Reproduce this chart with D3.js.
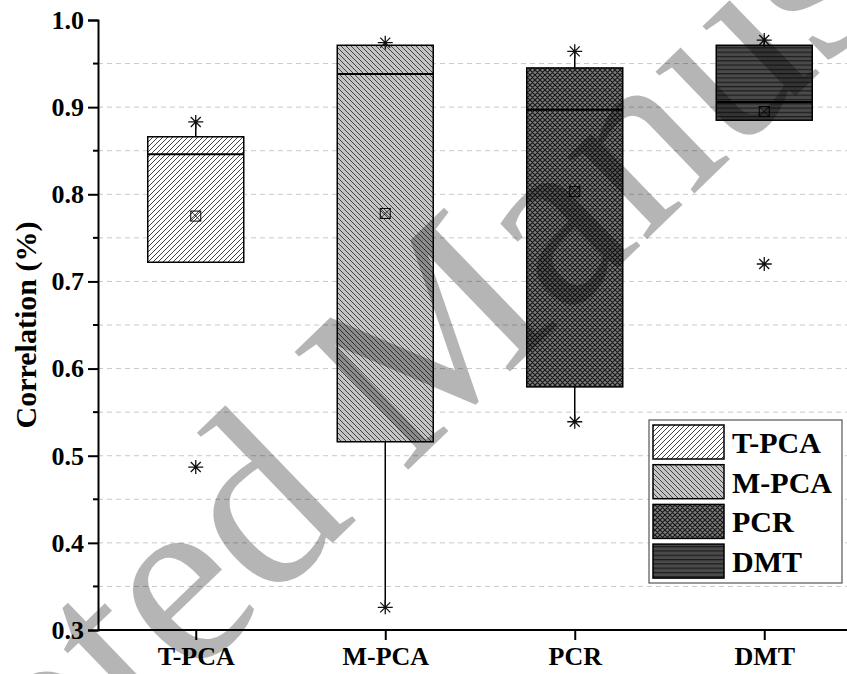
<!DOCTYPE html>
<html><head><meta charset="utf-8">
<script src="https://cdn.jsdelivr.net/npm/d3@7"></script>
<style>html,body{margin:0;padding:0;background:#fff}svg{display:block}</style>
</head><body>
<script>
const categories = ["T-PCA","M-PCA","PCR","DMT"];
const q1Vals     = [0.722, 0.516, 0.579, 0.885];
const medianVals = [0.846, 0.938, 0.897, 0.906];
const q3Vals     = [0.866, 0.971, 0.945, 0.971];
const whiskerLow = [0.722, 0.326, 0.539, 0.885];
const whiskerHigh= [0.883, 0.974, 0.964, 0.977];
const meanVals   = [0.775, 0.778, 0.803, 0.895];
const minVals    = [0.487, 0.326, 0.539, 0.720];
const maxVals    = [0.883, 0.974, 0.964, 0.977];
const yTicks     = [0.3,0.4,0.5,0.6,0.7,0.8,0.9,1.0];
const yMinorTicks= [0.35,0.45,0.55,0.65,0.75,0.85,0.95];
const yTitle = "Correlation (%)";
const watermark = "Accepted Manuscript";

const W=847,H=674;
const mLeft=98, mTop=20, mBottom=630;
const svg=d3.select("body").append("svg").attr("width",W).attr("height",H);
svg.append("rect").attr("width",W).attr("height",H).attr("fill","#fff");
const y=d3.scaleLinear().domain([0.3,1.0]).range([mBottom,mTop]);
const x=d3.scalePoint().domain(categories).range([101,859]).padding(0.5);
const boxW=96;

const defs=svg.append("defs");
function pat(id,size,bg,paths,stroke,sw){
  const p=defs.append("pattern").attr("id",id).attr("patternUnits","userSpaceOnUse").attr("width",size).attr("height",size);
  p.append("rect").attr("width",size).attr("height",size).attr("fill",bg);
  p.append("path").attr("d",paths).attr("stroke",stroke).attr("stroke-width",sw).attr("fill","none");
}
pat("p0",5,"#ffffff","M0,5L5,0M-1,1L1,-1M4,6L6,4","#111",0.8);
pat("p1",5,"#c4c4c4","M0,0L5,5M-1,4L1,6M4,-1L6,1","#333",0.9);
pat("p2",5,"#7c7c7c","M0,0L5,5M-1,4L1,6M4,-1L6,1M0,5L5,0M-1,1L1,-1M4,6L6,4","#181818",1.2);
const p3=defs.append("pattern").attr("id","p3").attr("patternUnits","userSpaceOnUse").attr("width",8).attr("height",4.3);
p3.append("rect").attr("width",8).attr("height",4.3).attr("fill","#4a4a4a");
p3.append("line").attr("x1",0).attr("x2",8).attr("y1",0.6).attr("y2",0.6).attr("stroke","#1c1c1c").attr("stroke-width",1.2);
const fills=["url(#p0)","url(#p1)","url(#p2)","url(#p3)"];

// grid
svg.append("g").selectAll("line").data(yTicks.concat(yMinorTicks).filter(v=>v>0.3&&v<1.0)).join("line")
  .attr("x1",mLeft).attr("x2",W).attr("y1",d=>y(d)).attr("y2",d=>y(d))
  .attr("stroke","#c8c8c8").attr("stroke-width",1).attr("stroke-dasharray","5,4");

// axes
const fontF="'Liberation Serif','Times New Roman',serif";
const ya=svg.append("g").attr("transform",`translate(${mLeft},0)`)
  .call(d3.axisLeft(y).tickValues(yTicks).tickFormat(d3.format(".1f")).tickSize(10).tickPadding(4));
ya.select(".domain").attr("stroke","#000").attr("stroke-width",2);
ya.selectAll(".tick line").attr("stroke","#000").attr("stroke-width",2);
ya.selectAll("text").attr("font-family",fontF).attr("font-weight","bold").attr("font-size",26).attr("fill","#000");
svg.append("g").selectAll("line").data(yMinorTicks).join("line")
  .attr("x1",mLeft-5).attr("x2",mLeft).attr("y1",d=>y(d)).attr("y2",d=>y(d)).attr("stroke","#000").attr("stroke-width",2);

const xa=svg.append("g").attr("transform",`translate(0,${mBottom})`)
  .call(d3.axisBottom(x).tickSize(10).tickPadding(7));
xa.select(".domain").attr("d",`M${mLeft},0H${W}`).attr("stroke","#000").attr("stroke-width",2);
xa.selectAll(".tick line").attr("stroke","#000").attr("stroke-width",2);
xa.selectAll("text").attr("font-family",fontF).attr("font-weight","bold").attr("font-size",26).attr("fill","#000");

svg.append("text").attr("transform",`translate(36,${(mTop+mBottom)/2}) rotate(-90)`)
  .attr("text-anchor","middle").attr("font-family",fontF).attr("font-weight","bold").attr("font-size",30).text(yTitle);

// boxes
const g=svg.append("g");
categories.forEach((c,i)=>{
  const cx=x(c);
  if(whiskerHigh[i]>q3Vals[i]) g.append("line").attr("x1",cx).attr("x2",cx).attr("y1",y(q3Vals[i])).attr("y2",y(whiskerHigh[i])).attr("stroke","#000").attr("stroke-width",1.5);
  if(whiskerLow[i]<q1Vals[i]) g.append("line").attr("x1",cx).attr("x2",cx).attr("y1",y(q1Vals[i])).attr("y2",y(whiskerLow[i])).attr("stroke","#000").attr("stroke-width",1.5);
  g.append("rect").attr("x",cx-boxW/2).attr("y",y(q3Vals[i])).attr("width",boxW).attr("height",y(q1Vals[i])-y(q3Vals[i]))
    .attr("fill",fills[i]).attr("stroke","#000").attr("stroke-width",1.5);
  g.append("line").attr("x1",cx-boxW/2).attr("x2",cx+boxW/2).attr("y1",y(medianVals[i])).attr("y2",y(medianVals[i])).attr("stroke","#000").attr("stroke-width",2);
  const my=y(meanVals[i]);
  g.append("rect").attr("x",cx-5).attr("y",my-5).attr("width",10).attr("height",10).attr("fill","none").attr("stroke","#000").attr("stroke-width",1);
  g.append("path").attr("d",`M${cx-5},${my-5}L${cx+5},${my+5}M${cx+5},${my-5}L${cx-5},${my+5}`).attr("stroke","#000").attr("stroke-width",0.8);
  [minVals[i],maxVals[i]].forEach(v=>{
    const sy=y(v);
    g.append("path").attr("d",`M${cx-7.5},${sy}H${cx+7.5}M${cx},${sy-7}V${sy+7}M${cx-5},${sy-5}L${cx+5},${sy+5}M${cx+5},${sy-5}L${cx-5},${sy+5}`)
      .attr("stroke","#111").attr("stroke-width",1.3);
  });
});

// legend
const lg=svg.append("g");
lg.append("rect").attr("x",649).attr("y",420).attr("width",193).attr("height",163).attr("fill","#fff").attr("stroke","#555").attr("stroke-width",1.2);
categories.forEach((c,i)=>{
  lg.append("rect").attr("x",653).attr("y",425+39.7*i).attr("width",71).attr("height",34).attr("fill",fills[i]).attr("stroke","#000").attr("stroke-width",1.5);
  lg.append("text").attr("x",732).attr("y",425+39.7*i+28).attr("font-family",fontF).attr("font-weight","bold").attr("font-size",30).text(c);
});

// watermark
svg.append("text").attr("transform",`translate(392,368) rotate(-44)`).attr("text-anchor","middle").attr("dominant-baseline","central")
  .attr("font-family",fontF).attr("font-size",250).attr("fill","#000").attr("fill-opacity",0.29).text(watermark);
</script>
</body></html>
